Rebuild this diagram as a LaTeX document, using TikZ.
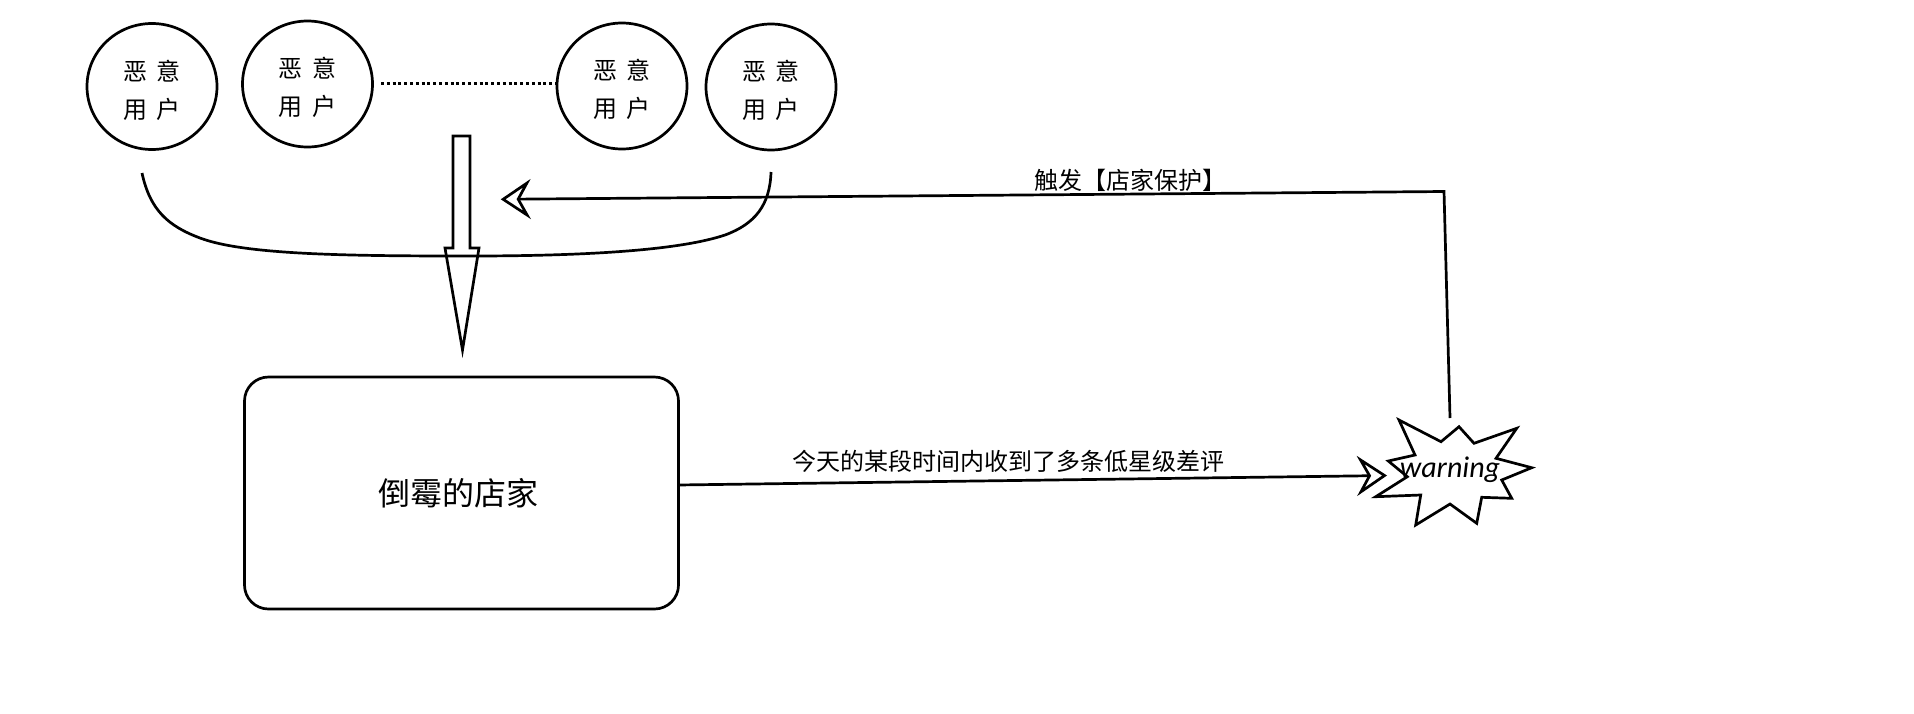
\documentclass[tikz,border=0pt]{standalone}
\usepackage{fontspec}
\usetikzlibrary{shapes.geometric,arrows.meta}
\setmainfont{Noto Sans CJK SC}
\newfontfamily\warnfont{Carlito}[ItalicFont=Carlito Italic]
\tikzset{
  ink/.style={line width=1.35pt,black,line join=miter},
  userball/.style={ink,draw,ellipse,minimum width=65pt,minimum height=63pt,inner sep=0pt},
  balltext/.style={inner sep=0pt,align=center,yshift=-1.7pt,font=\fontsize{12}{19}\selectfont},
  openarrow/.style={ink,-{Stealth[open,length=15pt,width=20pt,inset=5.5pt,line width=1.35pt]}},
  shopbox/.style={ink,draw,rounded corners=12pt,minimum width=217pt,minimum height=116pt,inner sep=0pt},
  lbl/.style={inner sep=0pt,font=\fontsize{12}{14}\selectfont},
}
\begin{document}
\begin{tikzpicture}[x=0.5pt,y=-0.5pt]
\useasboundingbox (0,0) rectangle (1914,713);
\node[userball] (u1) at (152,86.5) {};
\node[userball] (u2) at (307.5,84) {};
\node[userball] (u3) at (622,86) {};
\node[userball] (u4) at (771,87) {};
\node[balltext] (t1) at (u1) {恶\hspace{5pt}意\\用\hspace{5pt}户};
\node[balltext] (t2) at (u2) {恶\hspace{5pt}意\\用\hspace{5pt}户};
\node[balltext] (t3) at (u3) {恶\hspace{5pt}意\\用\hspace{5pt}户};
\node[balltext] (t4) at (u4) {恶\hspace{5pt}意\\用\hspace{5pt}户};
\coordinate (dotA) at (381,83.5);
\coordinate (dotB) at (556,83.5);
\draw[black,line width=1.5pt,dash pattern=on 1.5pt off 1.4pt] (dotA) -- (dotB);
% brace curve
\coordinate (curveL) at (142,173);
\coordinate (curveR) at (771,172);
\draw[ink] (curveL) .. controls (150,210) and (168,226) .. (200,238)
  .. controls (245,255) and (350,256) .. (470,256)
  .. controls (590,256) and (680,250) .. (725,235)
  .. controls (755,224) and (770,205) .. (curveR);
% block arrow
\draw[ink] (453,136) -- (470,136) -- (470,248) -- (479,248) -- (462.5,350) -- (445,248) -- (453,248) -- cycle;
\node[shopbox] (shop) at (461.5,493) {};
\node[inner sep=0pt,font=\fontsize{16}{18}\selectfont] (shoplabel) at (458,493) {倒霉的店家};
% warning star
\draw[ink] (1399,420) -- (1441,441.7) -- (1459,426.7) -- (1474,443.3) -- (1516.7,428.3) -- (1496,458.3) -- (1531.7,467.7) -- (1501.7,480) -- (1511.7,498.3) -- (1481.7,497.3) -- (1476.7,523.3) -- (1450,504) -- (1415.7,525) -- (1420.7,495) -- (1375.7,496.7) -- (1407.3,476.7) -- (1388.3,461) -- (1415,455) -- cycle;
\node[inner sep=0pt,font=\warnfont\itshape\fontsize{15}{18}\selectfont] (warn) at (1450,470) {warning};
% connectors
\coordinate (shopOut) at (677.5,485);
\coordinate (warnIn) at (1387,475.5);
\draw[openarrow] (shopOut) -- (warnIn);
\coordinate (warnOut) at (1450,418);
\coordinate (corner) at (1444,191.5);
\coordinate (guardTip) at (500.7,199.3);
\draw[openarrow] (warnOut) -- (corner) -- (guardTip);
\node[lbl] (l1) at (1008,461.5) {今天的某段时间内收到了多条低星级差评};
\node[lbl] (l2) at (1130,180) {触发【店家保护】};
\end{tikzpicture}
\end{document}
